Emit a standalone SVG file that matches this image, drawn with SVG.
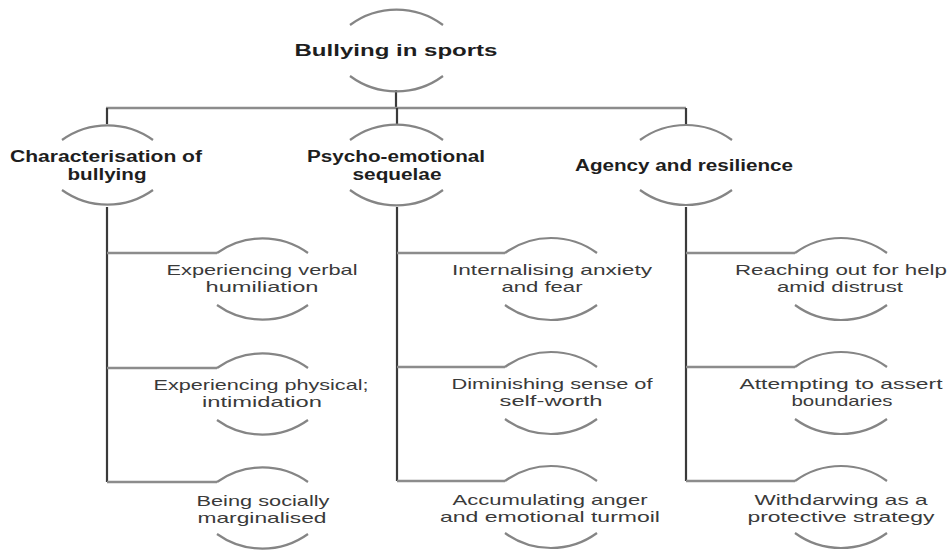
<svg xmlns="http://www.w3.org/2000/svg" width="948" height="550" viewBox="0 0 948 550">
<style>
.arc{fill:none;stroke:#858585;stroke-width:2.2}
.v{stroke:#3a3a3a;stroke-width:2.2;fill:none}
.h{stroke:#8c8c8c;stroke-width:2.6;fill:none}
.t{font-family:"Liberation Sans",Arial,sans-serif;font-size:15px;fill:#3a3a3a;text-anchor:middle}
.b{font-family:"Liberation Sans",Arial,sans-serif;font-size:16px;font-weight:bold;fill:#1e1e1e;text-anchor:middle}
</style>
<rect width="948" height="550" fill="#ffffff"/>
<g id="connectors">
<path class="v" d="M396 90V108"/>
<path class="h" d="M106 108H686"/>
<path class="v" d="M107 108V124M397 108V124M686 108V124"/>
<path class="v" d="M107 207V482M397 207V481M686 207V481"/>
<path class="h" d="M107 253H217M107 368H217M107 482H217"/>
<path class="h" d="M397 253H505M397 367H505M397 481H505"/>
<path class="h" d="M686 253H795M686 367H795M686 481H795"/>
</g>
<g id="root">
<path class="arc" d="M350 25A78 78 0 0 1 443 25M350 76A78 78 0 0 0 443 76"/>
<text class="b" x="396" y="56" font-size="17" textLength="203" lengthAdjust="spacingAndGlyphs">Bullying in sports</text>
</g>
<g id="n-characterisation">
<path class="arc" d="M62 140A78 78 0 0 1 153 140M62 190A78 78 0 0 0 153 190"/>
<text class="b" x="106" y="162" textLength="192" lengthAdjust="spacingAndGlyphs">Characterisation of</text>
<text class="b" x="107" y="180" textLength="79" lengthAdjust="spacingAndGlyphs">bullying</text>
</g>
<g id="n-psycho">
<path class="arc" d="M350 140A78 78 0 0 1 443 140M350 190A78 78 0 0 0 443 190"/>
<text class="b" x="396" y="162" textLength="178" lengthAdjust="spacingAndGlyphs">Psycho-emotional</text>
<text class="b" x="397" y="180" textLength="89" lengthAdjust="spacingAndGlyphs">sequelae</text>
</g>
<g id="n-agency">
<path class="arc" d="M640 140A78 78 0 0 1 732 140M640 190A78 78 0 0 0 732 190"/>
<text class="b" x="684" y="171" textLength="218" lengthAdjust="spacingAndGlyphs">Agency and resilience</text>
</g>
<g id="n-verbal">
<path class="arc" d="M217 253A78 78 0 0 1 308 253M217 305A78 78 0 0 0 308 305"/>
<text class="t" x="262" y="275" textLength="191" lengthAdjust="spacingAndGlyphs">Experiencing verbal</text>
<text class="t" x="262" y="292" textLength="113" lengthAdjust="spacingAndGlyphs">humiliation</text>
</g>
<g id="n-physical">
<path class="arc" d="M217 368A78 78 0 0 1 308 368M217 420A78 78 0 0 0 308 420"/>
<text class="t" x="261" y="390" textLength="215" lengthAdjust="spacingAndGlyphs">Experiencing physical;</text>
<text class="t" x="262" y="407" textLength="120" lengthAdjust="spacingAndGlyphs">intimidation</text>
</g>
<g id="n-social">
<path class="arc" d="M217 482A78 78 0 0 1 308 482M217 534A78 78 0 0 0 308 534"/>
<text class="t" x="263" y="506" textLength="133" lengthAdjust="spacingAndGlyphs">Being socially</text>
<text class="t" x="262" y="523" textLength="129" lengthAdjust="spacingAndGlyphs">marginalised</text>
</g>
<g id="n-anxiety">
<path class="arc" d="M505 253A78 78 0 0 1 597 253M505 305A78 78 0 0 0 597 305"/>
<text class="t" x="552" y="275" textLength="200" lengthAdjust="spacingAndGlyphs">Internalising anxiety</text>
<text class="t" x="542" y="292" textLength="81" lengthAdjust="spacingAndGlyphs">and fear</text>
</g>
<g id="n-selfworth">
<path class="arc" d="M505 367A78 78 0 0 1 597 367M505 419A78 78 0 0 0 597 419"/>
<text class="t" x="552" y="389" textLength="201" lengthAdjust="spacingAndGlyphs">Diminishing sense of</text>
<text class="t" x="551" y="406" textLength="103" lengthAdjust="spacingAndGlyphs">self-worth</text>
</g>
<g id="n-anger">
<path class="arc" d="M505 481A78 78 0 0 1 597 481M505 533A78 78 0 0 0 597 533"/>
<text class="t" x="550" y="505" textLength="195" lengthAdjust="spacingAndGlyphs">Accumulating anger</text>
<text class="t" x="550" y="522" textLength="220" lengthAdjust="spacingAndGlyphs">and emotional turmoil</text>
</g>
<g id="n-help">
<path class="arc" d="M795 253A78 78 0 0 1 887 253M795 305A78 78 0 0 0 887 305"/>
<text class="t" x="841" y="275" textLength="212" lengthAdjust="spacingAndGlyphs">Reaching out for help</text>
<text class="t" x="840" y="292" textLength="126" lengthAdjust="spacingAndGlyphs">amid distrust</text>
</g>
<g id="n-boundaries">
<path class="arc" d="M795 367A78 78 0 0 1 887 367M795 419A78 78 0 0 0 887 419"/>
<text class="t" x="841" y="389" textLength="203" lengthAdjust="spacingAndGlyphs">Attempting to assert</text>
<text class="t" x="842" y="406" textLength="101" lengthAdjust="spacingAndGlyphs">boundaries</text>
</g>
<g id="n-withdraw">
<path class="arc" d="M795 481A78 78 0 0 1 887 481M795 533A78 78 0 0 0 887 533"/>
<text class="t" x="841" y="505" textLength="173" lengthAdjust="spacingAndGlyphs">Withdarwing as a</text>
<text class="t" x="841" y="522" textLength="187" lengthAdjust="spacingAndGlyphs">protective strategy</text>
</g>
</svg>
